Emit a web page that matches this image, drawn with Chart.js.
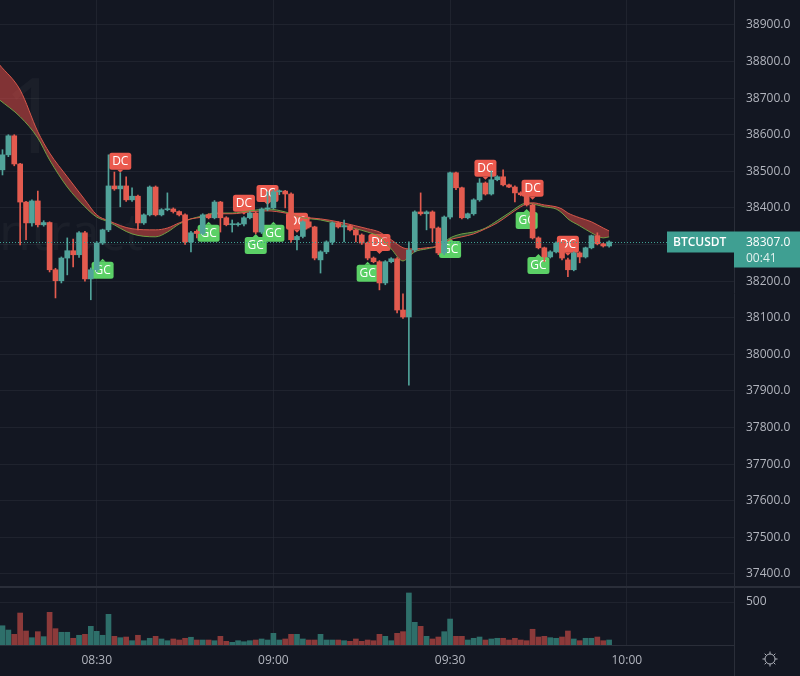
<!DOCTYPE html>
<html>
<head>
<meta charset="utf-8">
<script src="https://cdn.jsdelivr.net/npm/chart.js@4.4.1/dist/chart.umd.min.js"></script>
<style>
  html, body { margin: 0; padding: 0; background: #131722; overflow: hidden; }
  #wrap { width: 800px; height: 676px; }
  canvas { display: block; }
  .sep { height: 2px; background: #2a2e39; }
</style>
</head>
<body>
<div id="wrap">
  <canvas id="main" width="800" height="586"></canvas>
  <div class="sep"></div>
  <canvas id="vol" width="800" height="88"></canvas>
</div>
<script>
// 1-minute BTCUSDT candles, first one at 08:14
const firstMinute = 14; // minutes after 08:00

const opens = [38504,38545,38597,38520,38416,38359,38419,38354,38360,38231,38201,38263,38283,38272,38332,38206,38231,38304,38340,38460,
  38452,38460,38422,38432,38359,38381,38457,38381,38395,38397,38390,38381,38307,38336,38330,38381,38373,38416,38373,38354,
  38354,38356,38373,38386,38334,38397,38400,38444,38446,38438,38313,38322,38362,38348,38258,38280,38307,38359,38348,38351,
  38340,38326,38304,38263,38253,38195,38253,38261,38121,38102,38285,38389,38384,38389,38345,38277,38375,38496,38455,38373,
  38384,38422,38468,38438,38477,38485,38463,38457,38441,38436,38408,38318,38291,38266,38280,38304,38258,38231,38277,38266,
  38291,38324,38302,38296];
const highs = [38559,38600,38600,38522,38418,38422,38446,38365,38362,38235,38266,38318,38315,38335,38336,38236,38308,38342,38545,38498,
  38496,38485,38455,38435,38384,38460,38460,38398,38441,38400,38392,38384,38336,38340,38384,38384,38420,38418,38376,38367,
  38360,38376,38390,38389,38400,38444,38449,38449,38448,38441,38325,38365,38375,38350,38283,38310,38362,38362,38367,38354,
  38342,38329,38307,38266,38256,38256,38264,38264,38165,38307,38392,38441,38392,38392,38348,38378,38498,38498,38457,38386,
  38425,38480,38471,38501,38488,38504,38465,38460,38444,38439,38411,38321,38293,38283,38307,38307,38263,38280,38280,38293,
  38326,38332,38304,38310];
const lows = [38490,38540,38515,38299,38313,38350,38348,38350,38225,38154,38195,38217,38239,38265,38200,38149,38225,38300,38335,38448,
  38403,38418,38418,38340,38355,38378,38378,38378,38392,38386,38378,38300,38280,38318,38326,38370,38370,38334,38351,38334,
  38350,38351,38370,38329,38330,38392,38397,38436,38400,38305,38285,38318,38345,38258,38222,38275,38300,38345,38307,38337,
  38307,38300,38258,38250,38176,38190,38250,38113,38098,37916,38280,38380,38340,38307,38272,38272,38370,38450,38370,38370,
  38380,38418,38435,38435,38474,38460,38455,38416,38433,38405,38315,38288,38253,38263,38277,38258,38212,38228,38250,38263,
  38288,38299,38293,38293];
const closes = [38545,38597,38520,38416,38359,38419,38354,38360,38231,38201,38263,38283,38272,38332,38206,38231,38304,38340,38460,38452,
  38460,38422,38432,38359,38381,38457,38381,38395,38397,38390,38381,38307,38332,38330,38381,38373,38416,38373,38354,38355,
  38356,38373,38386,38334,38397,38400,38444,38446,38438,38313,38322,38362,38348,38263,38280,38307,38359,38348,38351,38340,
  38326,38304,38263,38253,38195,38253,38261,38121,38102,38285,38389,38384,38389,38345,38277,38375,38496,38455,38373,38384,
  38422,38468,38438,38477,38485,38463,38457,38441,38436,38408,38318,38291,38266,38280,38304,38263,38231,38277,38266,38291,
  38324,38302,38296,38307];
const volumes = [224,174,124,372,163,85,155,97,380,190,148,148,78,113,124,217,159,113,357,101,
  85,93,50,113,50,78,101,70,50,70,58,78,90,58,58,58,50,101,43,31,
  50,38,50,58,70,58,136,58,70,124,124,70,58,58,124,58,58,58,50,43,
  70,43,58,50,124,101,50,136,155,605,264,217,101,70,93,155,302,101,101,58,
  78,93,58,70,78,78,58,78,58,50,183,93,101,85,78,93,163,70,50,78,
  78,93,50,58];

// EMA ribbon, read at these candle indexes
const emaIdx  = [-0.5,3,6,8,11,14,16,18,22,26,28,30,32,34,36,39,42,45,48,51,54,57,60,62,64,66,68,69,70,72,74,76,78,80,82,84,86,88,89,90,92,94,95,96,98,100,102,103];
const emaSlow = [38791,38722,38608,38550,38485,38422,38381,38365,38343,38340,38345,38359,38370,38375,38384,38384,38389,38392,38386,38375,38370,38362,38351,38343,38334,38313,38291,38288,38288,38291,38296,38313,38321,38329,38343,38359,38381,38403,38411,38414,38408,38403,38397,38386,38373,38362,38345,38337];
const emaFast = [38695,38649,38591,38531,38457,38403,38375,38362,38329,38321,38334,38356,38370,38378,38386,38386,38392,38397,38389,38373,38367,38356,38343,38334,38321,38288,38255,38266,38280,38288,38296,38318,38329,38334,38345,38365,38386,38408,38414,38411,38403,38397,38386,38370,38351,38332,38318,38321];

// cross signals: candle index, kind, price where the marker points
const sigIdx   = [17,20,35,41,43,45,46,50,62,64,76,82,89,90,91,96];
const sigType  = ['GC','DC','GC','DC','GC','DC','GC','DC','GC','DC','GC','DC','GC','DC','GC','DC'];
const sigPrice = [38261,38496,38362,38381,38329,38408,38362,38332,38253,38274,38318,38477,38397,38422,38274,38269];

const priceTicks = [37400,37500,37600,37700,37800,37900,38000,38100,38200,38300,38400,38500,38600,38700,38800,38900];
const volTicks = [500];
const timeTicks = [30, 60, 90, 120];
const timeLabels = ['08:30', '09:00', '09:30', '10:00'];

const UP = '#51a39a', DOWN = '#e35b4f';
const UP_VOL = '#2e6f6a', DOWN_VOL = '#8c3a3a';
const GRID = 'rgba(42,46,57,0.55)';
const TEXT = '#b2b5be';
const FONT = '"Open Sans", sans-serif';
const X_MIN = 13.58, X_MAX = 138.2;

const xs = closes.map((c, i) => firstMinute + i);
const candleColors = closes.map((c, i) => (c >= opens[i] ? UP : DOWN));
const volColors = closes.map((c, i) => (c >= opens[i] ? UP_VOL : DOWN_VOL));

function roundRect(ctx, x, y, w, h, r) {
  ctx.beginPath();
  ctx.moveTo(x + r, y);
  ctx.arcTo(x + w, y, x + w, y + h, r);
  ctx.arcTo(x + w, y + h, x, y + h, r);
  ctx.arcTo(x, y + h, x, y, r);
  ctx.arcTo(x, y, x + w, y, r);
  ctx.closePath();
}

// watermark + GC/DC markers (behind the candles)
const markers = {
  id: 'markers',
  beforeDatasetsDraw(chart) {
    const { ctx, scales } = chart;
    ctx.save();
    ctx.fillStyle = 'rgba(255,255,255,0.035)';
    ctx.textAlign = 'right';
    ctx.textBaseline = 'alphabetic';
    ctx.font = '104px ' + FONT;
    ctx.fillText('1', 62, 153);
    ctx.font = '52px ' + FONT;
    ctx.fillText('Contract', 143, 250);

    sigIdx.forEach((k, j) => {
      const x = scales.x.getPixelForValue(firstMinute + k);
      const y = scales.y.getPixelForValue(sigPrice[j]);
      const dc = sigType[j] === 'DC';
      const w = 22, h = 17;
      const top = dc ? y - 3 - h : y + 3;
      ctx.fillStyle = dc ? '#eb5a4e' : '#5bd066';
      roundRect(ctx, x - w / 2, top, w, h, 2.5);
      ctx.fill();
      ctx.beginPath();
      if (dc) {
        ctx.moveTo(x - 3, y - 3); ctx.lineTo(x + 3, y - 3); ctx.lineTo(x, y);
      } else {
        ctx.moveTo(x - 3, y + 3); ctx.lineTo(x + 3, y + 3); ctx.lineTo(x, y);
      }
      ctx.fill();
      ctx.fillStyle = '#ffffff';
      ctx.font = '12px ' + FONT;
      ctx.textAlign = 'center';
      ctx.textBaseline = 'middle';
      ctx.fillText(sigType[j], x, top + h / 2 + 0.5);
      ctx.textAlign = 'right';
      ctx.textBaseline = 'alphabetic';
    });
    ctx.restore();
  }
};

// last price line and its labels
const lastPrice = {
  id: 'lastPrice',
  afterDraw(chart) {
    const { ctx, scales, chartArea } = chart;
    const last = closes.length - 1;
    const y = Math.round(scales.y.getPixelForValue(closes[last])) + 0.5;
    const col = '#3f9f92';
    ctx.save();
    ctx.strokeStyle = col;
    ctx.setLineDash([1, 2]);
    ctx.lineWidth = 1;
    ctx.beginPath();
    ctx.moveTo(chartArea.left, y);
    ctx.lineTo(chartArea.right - 67, y);
    ctx.stroke();
    ctx.setLineDash([]);
    ctx.fillStyle = col;
    ctx.fillRect(chartArea.right - 67, y - 11, 67, 21);
    ctx.fillRect(chartArea.right, y - 11, 66, 36);
    ctx.fillStyle = '#ffffff';
    ctx.textBaseline = 'middle';
    ctx.textAlign = 'left';
    ctx.font = '600 12px ' + FONT;
    ctx.fillText('BTCUSDT', chartArea.right - 61, y);
    ctx.font = '12px ' + FONT;
    ctx.fillText(closes[last].toFixed(1), chartArea.right + 12, y);
    ctx.fillStyle = 'rgba(255,255,255,0.85)';
    ctx.fillText('00:41', chartArea.right + 12, y + 16);
    ctx.restore();
  }
};

const fixTicks = (list) => (axis) => { axis.ticks = list.map(v => ({ value: v })); };
const noPad = (s) => { s.paddingTop = 0; s.paddingBottom = 0; s.paddingLeft = 0; s.paddingRight = 0; };

new Chart(document.getElementById('main'), {
  type: 'bar',
  data: {
    datasets: [
      {
        type: 'line', label: 'EMA slow',
        data: emaIdx.map((k, j) => ({ x: firstMinute + k, y: emaSlow[j] })),
        borderColor: '#d9574b', borderWidth: 1, pointRadius: 0,
        cubicInterpolationMode: 'monotone', fill: false, order: 3
      },
      {
        type: 'line', label: 'EMA fast',
        data: emaIdx.map((k, j) => ({ x: firstMinute + k, y: emaFast[j] })),
        borderColor: '#6f9e45', borderWidth: 1, pointRadius: 0,
        cubicInterpolationMode: 'monotone',
        fill: { target: 0, above: 'rgba(90,170,80,0.4)', below: 'rgba(220,75,70,0.55)' },
        order: 3
      },
      {
        label: 'wick',
        data: xs.map((x, i) => ({ x: x, y: [lows[i], highs[i]] })),
        backgroundColor: candleColors, barThickness: 1, grouped: false, order: 2
      },
      {
        label: 'body',
        data: xs.map((x, i) => ({ x: x, y: [opens[i], closes[i]] })),
        backgroundColor: candleColors, barThickness: 5, minBarLength: 1, grouped: false, order: 1
      }
    ]
  },
  options: {
    responsive: false,
    animation: false,
    events: [],
    layout: { padding: 0 },
    plugins: { legend: { display: false }, tooltip: { enabled: false } },
    scales: {
      x: {
        type: 'linear', min: X_MIN, max: X_MAX, offset: false,
        afterBuildTicks: fixTicks(timeTicks),
        afterFit: s => { s.height = 0; noPad(s); },
        ticks: { display: false },
        grid: { color: GRID, drawTicks: false, offset: false },
        border: { display: false }
      },
      y: {
        position: 'right', min: 37367, max: 38968,
        afterBuildTicks: fixTicks(priceTicks),
        afterFit: s => { s.width = 66; noPad(s); },
        ticks: { color: TEXT, font: { family: FONT, size: 12 }, padding: 12, callback: v => v.toFixed(1) },
        grid: { color: GRID, drawTicks: false },
        border: { color: '#2a2e39' }
      }
    }
  },
  plugins: [markers, lastPrice]
});

const corner = {
  id: 'corner',
  afterDraw(chart) {
    const { ctx, chartArea, height } = chart;
    ctx.save();
    ctx.strokeStyle = '#2a2e39';
    ctx.lineWidth = 1;
    ctx.beginPath();
    ctx.moveTo(chartArea.right + 0.5, chartArea.bottom);
    ctx.lineTo(chartArea.right + 0.5, height);
    ctx.stroke();
    // settings gear
    const cx = 770, cy = chartArea.bottom + 14;
    ctx.strokeStyle = TEXT;
    ctx.beginPath();
    ctx.arc(cx, cy, 5, 0, Math.PI * 2);
    ctx.stroke();
    for (let k = 0; k < 8; k++) {
      const a = k * Math.PI / 4;
      ctx.beginPath();
      ctx.moveTo(cx + Math.cos(a) * 5, cy + Math.sin(a) * 5);
      ctx.lineTo(cx + Math.cos(a) * 7.5, cy + Math.sin(a) * 7.5);
      ctx.stroke();
    }
    ctx.restore();
  }
};

new Chart(document.getElementById('vol'), {
  type: 'bar',
  data: {
    datasets: [{
      label: 'volume',
      data: xs.map((x, i) => ({ x: x, y: volumes[i] })),
      backgroundColor: volColors, barThickness: 5, grouped: false
    }]
  },
  options: {
    responsive: false,
    animation: false,
    events: [],
    layout: { padding: 0 },
    plugins: { legend: { display: false }, tooltip: { enabled: false } },
    scales: {
      x: {
        type: 'linear', min: X_MIN, max: X_MAX, offset: false,
        afterBuildTicks: fixTicks(timeTicks),
        afterFit: s => { s.height = 31; noPad(s); },
        ticks: {
          color: TEXT, font: { family: FONT, size: 12 }, padding: 8,
          maxRotation: 0, autoSkip: false,
          callback: (v, i) => timeLabels[i]
        },
        grid: { color: GRID, drawTicks: false, offset: false },
        border: { color: '#2a2e39' }
      },
      y: {
        position: 'right', min: 0, max: 663,
        afterBuildTicks: fixTicks(volTicks),
        afterFit: s => { s.width = 66; noPad(s); },
        ticks: { color: TEXT, font: { family: FONT, size: 12 }, padding: 12 },
        grid: { color: GRID, drawTicks: false },
        border: { color: '#2a2e39' }
      }
    }
  },
  plugins: [corner]
});
</script>
</body>
</html>
